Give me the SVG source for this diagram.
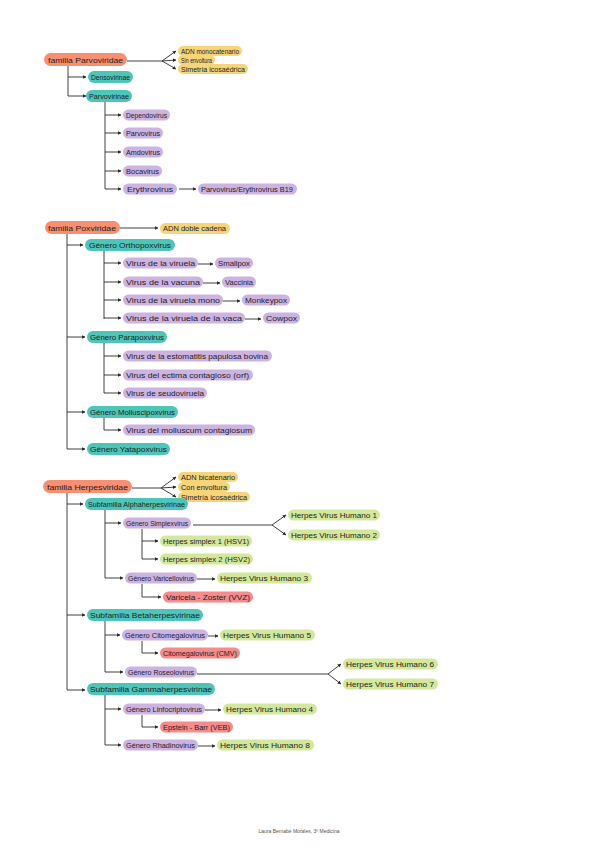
<svg xmlns="http://www.w3.org/2000/svg" width="600" height="848" viewBox="0 0 600 848">
<defs>
<style>
.s{fill:#f78f70}.y{fill:#f6d47a}.t{fill:#4ec5b9}.p{fill:#ccb3e2}.g{fill:#d3e89b}.r{fill:#f58b8a}
text{font-family:"Liberation Sans",Arial,sans-serif;font-size:7.5px;fill:#1e1e1e}
.c path{fill:none;stroke:#2a2a2a;stroke-width:0.9}
.ft{font-size:5px;fill:#555}
</style>
<marker id="a" viewBox="0 0 6 6" refX="5.5" refY="3" markerWidth="4" markerHeight="4" orient="auto"><path d="M0,0 L6,3 L0,6 z" fill="#2a2a2a"/></marker>
</defs>
<rect width="600" height="848" fill="#fff"/>
<g class="c">
<!-- Parvoviridae -->
<path d="M127,61 H162"/>
<path d="M162,61 L176,51" marker-end="url(#a)"/><path d="M162,61 L176,60" marker-end="url(#a)"/><path d="M162,61 L176,69" marker-end="url(#a)"/>
<path d="M68,66 V96"/><path d="M68,77 H86" marker-end="url(#a)"/><path d="M68,96 H86" marker-end="url(#a)"/>
<path d="M105,102 V189"/>
<path d="M105,115 H121" marker-end="url(#a)"/><path d="M105,133 H121" marker-end="url(#a)"/><path d="M105,152 H121" marker-end="url(#a)"/><path d="M105,171 H121" marker-end="url(#a)"/><path d="M105,189 H121" marker-end="url(#a)"/>
<path d="M179,189 H196" marker-end="url(#a)"/>
<!-- Poxviridae -->
<path d="M120,228 H158" marker-end="url(#a)"/>
<path d="M67,233 V449"/>
<path d="M67,245 H83" marker-end="url(#a)"/><path d="M67,337 H85" marker-end="url(#a)"/><path d="M67,412 H85" marker-end="url(#a)"/><path d="M67,449 H85" marker-end="url(#a)"/>
<path d="M104,251 V319"/>
<path d="M104,263 H121" marker-end="url(#a)"/><path d="M104,282 H121" marker-end="url(#a)"/><path d="M104,300 H121" marker-end="url(#a)"/><path d="M104,318 H121" marker-end="url(#a)"/>
<path d="M198,264 H213" marker-end="url(#a)"/><path d="M203,283 H220" marker-end="url(#a)"/><path d="M223,301 H240" marker-end="url(#a)"/><path d="M245,319 H261" marker-end="url(#a)"/>
<path d="M104,343 V393"/>
<path d="M104,356 H121" marker-end="url(#a)"/><path d="M104,375 H121" marker-end="url(#a)"/><path d="M104,393 H121" marker-end="url(#a)"/>
<path d="M104,418 V430 H121" marker-end="url(#a)"/>
<!-- Herpesviridae -->
<path d="M132,488 H161"/>
<path d="M161,488 L176,477" marker-end="url(#a)"/><path d="M161,488 L176,487" marker-end="url(#a)"/><path d="M161,488 L176,497" marker-end="url(#a)"/>
<path d="M67,493 V690"/>
<path d="M67,504 H83" marker-end="url(#a)"/><path d="M67,615 H85" marker-end="url(#a)"/><path d="M67,690 H85" marker-end="url(#a)"/>
<path d="M105,510 V578"/>
<path d="M105,523 H121" marker-end="url(#a)"/><path d="M105,578 H123" marker-end="url(#a)"/>
<path d="M193,525 H272"/>
<path d="M272,525 L286,515" marker-end="url(#a)"/><path d="M272,525 L286,535" marker-end="url(#a)"/>
<path d="M142,529 V559"/>
<path d="M142,541 H158" marker-end="url(#a)"/><path d="M142,559 H158" marker-end="url(#a)"/>
<path d="M197,579 H215" marker-end="url(#a)"/>
<path d="M142,584 V597 H161" marker-end="url(#a)"/>
<path d="M105,621 V672"/>
<path d="M105,635 H120" marker-end="url(#a)"/><path d="M105,672 H123" marker-end="url(#a)"/>
<path d="M208,636 H218" marker-end="url(#a)"/>
<path d="M142,641 V653 H158" marker-end="url(#a)"/>
<path d="M197,674 H328"/>
<path d="M328,674 L341,664" marker-end="url(#a)"/><path d="M328,674 L341,684" marker-end="url(#a)"/>
<path d="M105,695 V745"/>
<path d="M105,709 H121" marker-end="url(#a)"/><path d="M105,745 H121" marker-end="url(#a)"/>
<path d="M205,710 H221" marker-end="url(#a)"/>
<path d="M142,715 V727 H158" marker-end="url(#a)"/>
<path d="M198,746 H215" marker-end="url(#a)"/>
</g>

<!-- Section 1 -->
<g id="fam-parvo"><rect class="s" x="44" y="53" width="83" height="13" rx="6.5"/><text x="48" y="62.5" textLength="75" lengthAdjust="spacingAndGlyphs">familia Parvoviridae</text></g>
<g id="adn-mono"><rect class="y" x="178" y="46" width="64" height="10" rx="5"/><text x="181" y="53.5" textLength="58" lengthAdjust="spacingAndGlyphs">ADN monocatenario</text></g>
<g id="sin-env"><rect class="y" x="178" y="55" width="37" height="10" rx="5"/><text x="181" y="62.5" textLength="31" lengthAdjust="spacingAndGlyphs">Sin envoltura</text></g>
<g id="sim-ico1"><rect class="y" x="178" y="64" width="70" height="10" rx="5"/><text x="181" y="71.5" textLength="64" lengthAdjust="spacingAndGlyphs">Simetría icosaédrica</text></g>
<g id="densovirinae"><rect class="t" x="88" y="71" width="45" height="12" rx="6"/><text x="91" y="79.5" textLength="39" lengthAdjust="spacingAndGlyphs">Densovirinae</text></g>
<g id="parvovirinae"><rect class="t" x="86" y="90" width="46" height="12" rx="6"/><text x="89" y="98.5" textLength="40" lengthAdjust="spacingAndGlyphs">Parvovirinae</text></g>
<g id="dependovirus"><rect class="p" x="123" y="109.5" width="47" height="11" rx="5.5"/><text x="126" y="117.5" textLength="41" lengthAdjust="spacingAndGlyphs">Dependovirus</text></g>
<g id="parvovirus"><rect class="p" x="123" y="127.5" width="40" height="11" rx="5.5"/><text x="126" y="135.5" textLength="34" lengthAdjust="spacingAndGlyphs">Parvovirus</text></g>
<g id="amdovirus"><rect class="p" x="123" y="146.5" width="40" height="11" rx="5.5"/><text x="126" y="154.5" textLength="34" lengthAdjust="spacingAndGlyphs">Amdovirus</text></g>
<g id="bocavirus"><rect class="p" x="123" y="165.5" width="39" height="11" rx="5.5"/><text x="126" y="173.5" textLength="33" lengthAdjust="spacingAndGlyphs">Bocavirus</text></g>
<g id="erythrovirus"><rect class="p" x="123" y="183.5" width="54" height="11" rx="5.5"/><text x="127" y="191.5" textLength="46" lengthAdjust="spacingAndGlyphs">Erythrovirus</text></g>
<g id="b19"><rect class="p" x="198" y="183.5" width="99" height="11" rx="5.5"/><text x="201" y="191.5" textLength="92" lengthAdjust="spacingAndGlyphs">Parvovirus/Erythrovirus B19</text></g>

<!-- Section 2 -->
<g id="fam-pox"><rect class="s" x="45" y="221" width="75" height="13" rx="6.5"/><text x="48" y="230.5" textLength="68" lengthAdjust="spacingAndGlyphs">familia Poxviridae</text></g>
<g id="adn-doble"><rect class="y" x="160" y="223" width="70" height="11" rx="5.5"/><text x="163" y="231" textLength="63" lengthAdjust="spacingAndGlyphs">ADN doble cadena</text></g>
<g id="orthopox"><rect class="t" x="85" y="239" width="90" height="12" rx="6"/><text x="89" y="247.5" textLength="82" lengthAdjust="spacingAndGlyphs">Género Orthopoxvirus</text></g>
<g id="viruela"><rect class="p" x="123" y="257.5" width="75" height="11" rx="5.5"/><text x="126" y="265.5" textLength="69" lengthAdjust="spacingAndGlyphs">Virus de la viruela</text></g>
<g id="smallpox"><rect class="p" x="215" y="257.5" width="38" height="11" rx="5.5"/><text x="218" y="265.5" textLength="32" lengthAdjust="spacingAndGlyphs">Smallpox</text></g>
<g id="vacuna"><rect class="p" x="123" y="276.5" width="80" height="11" rx="5.5"/><text x="126" y="284.5" textLength="74" lengthAdjust="spacingAndGlyphs">Virus de la vacuna</text></g>
<g id="vaccinia"><rect class="p" x="222" y="276.5" width="34" height="11" rx="5.5"/><text x="225" y="284.5" textLength="28" lengthAdjust="spacingAndGlyphs">Vaccinia</text></g>
<g id="viruela-mono"><rect class="p" x="123" y="294.5" width="100" height="11" rx="5.5"/><text x="126" y="302.5" textLength="94" lengthAdjust="spacingAndGlyphs">Virus de la viruela mono</text></g>
<g id="monkeypox"><rect class="p" x="242" y="294.5" width="48" height="11" rx="5.5"/><text x="245" y="302.5" textLength="42" lengthAdjust="spacingAndGlyphs">Monkeypox</text></g>
<g id="viruela-vaca"><rect class="p" x="123" y="312.5" width="122" height="11" rx="5.5"/><text x="126" y="320.5" textLength="116" lengthAdjust="spacingAndGlyphs">Virus de la viruela de la vaca</text></g>
<g id="cowpox"><rect class="p" x="263" y="312.5" width="37" height="11" rx="5.5"/><text x="266" y="320.5" textLength="31" lengthAdjust="spacingAndGlyphs">Cowpox</text></g>
<g id="parapox"><rect class="t" x="87" y="331" width="80" height="12" rx="6"/><text x="90" y="339.5" textLength="74" lengthAdjust="spacingAndGlyphs">Género Parapoxvirus</text></g>
<g id="estomatitis"><rect class="p" x="123" y="350.5" width="149" height="11" rx="5.5"/><text x="126" y="358.5" textLength="142" lengthAdjust="spacingAndGlyphs">Virus de la estomatitis papulosa bovina</text></g>
<g id="ectima"><rect class="p" x="123" y="369.5" width="130" height="11" rx="5.5"/><text x="126" y="377.5" textLength="123" lengthAdjust="spacingAndGlyphs">Virus del ectima contagioso (orf)</text></g>
<g id="seudoviruela"><rect class="p" x="123" y="387.5" width="84" height="11" rx="5.5"/><text x="126" y="395.5" textLength="78" lengthAdjust="spacingAndGlyphs">Virus de seudoviruela</text></g>
<g id="mollusci"><rect class="t" x="87" y="406" width="91" height="12" rx="6"/><text x="90" y="414.5" textLength="85" lengthAdjust="spacingAndGlyphs">Género Molluscipoxvirus</text></g>
<g id="molluscum"><rect class="p" x="123" y="424.5" width="132" height="11" rx="5.5"/><text x="126" y="432.5" textLength="126" lengthAdjust="spacingAndGlyphs">Virus del molluscum contagiosum</text></g>
<g id="yatapox"><rect class="t" x="87" y="443" width="83" height="12" rx="6"/><text x="90" y="451.5" textLength="77" lengthAdjust="spacingAndGlyphs">Género Yatapoxvirus</text></g>

<!-- Section 3 -->
<g id="fam-herpes"><rect class="s" x="43" y="480" width="89" height="13" rx="6.5"/><text x="47" y="489.5" textLength="81" lengthAdjust="spacingAndGlyphs">familia Herpesviridae</text></g>
<g id="adn-bi"><rect class="y" x="178" y="472" width="60" height="10" rx="5"/><text x="181" y="479.5" textLength="54" lengthAdjust="spacingAndGlyphs">ADN bicatenario</text></g>
<g id="con-env"><rect class="y" x="178" y="482" width="52" height="10" rx="5"/><text x="181" y="489.5" textLength="46" lengthAdjust="spacingAndGlyphs">Con envoltura</text></g>
<g id="sim-ico2"><rect class="y" x="178" y="492" width="72" height="10" rx="5"/><text x="181" y="499.5" textLength="66" lengthAdjust="spacingAndGlyphs">Simetría icosaédrica</text></g>
<g id="alpha"><rect class="t" x="85" y="498" width="103" height="12" rx="6"/><text x="88" y="506.5" textLength="97" lengthAdjust="spacingAndGlyphs">Subfamilia Alphaherpesvirinae</text></g>
<g id="simplexvirus"><rect class="p" x="123" y="517.5" width="68" height="11" rx="5.5"/><text x="126" y="525.5" textLength="62" lengthAdjust="spacingAndGlyphs">Género Simplexvirus</text></g>
<g id="hvh1"><rect class="g" x="288" y="509.5" width="92" height="11" rx="5.5"/><text x="291" y="517.5" textLength="86" lengthAdjust="spacingAndGlyphs">Herpes Virus Humano 1</text></g>
<g id="hvh2"><rect class="g" x="288" y="529.5" width="92" height="11" rx="5.5"/><text x="291" y="537.5" textLength="86" lengthAdjust="spacingAndGlyphs">Herpes Virus Humano 2</text></g>
<g id="hsv1"><rect class="g" x="160" y="535.5" width="92" height="11" rx="5.5"/><text x="163" y="543.5" textLength="86" lengthAdjust="spacingAndGlyphs">Herpes simplex 1 (HSV1)</text></g>
<g id="hsv2"><rect class="g" x="160" y="553.5" width="93" height="11" rx="5.5"/><text x="163" y="561.5" textLength="87" lengthAdjust="spacingAndGlyphs">Herpes simplex 2 (HSV2)</text></g>
<g id="varicellovirus"><rect class="p" x="125" y="572.5" width="72" height="11" rx="5.5"/><text x="128" y="580.5" textLength="66" lengthAdjust="spacingAndGlyphs">Género Varicellovirus</text></g>
<g id="hvh3"><rect class="g" x="217" y="572.5" width="95" height="11" rx="5.5"/><text x="220" y="580.5" textLength="88" lengthAdjust="spacingAndGlyphs">Herpes Virus Humano 3</text></g>
<g id="vvz"><rect class="r" x="163" y="591.5" width="90" height="11" rx="5.5"/><text x="166" y="599.5" textLength="84" lengthAdjust="spacingAndGlyphs">Varicela - Zoster (VVZ)</text></g>
<g id="beta"><rect class="t" x="87" y="609" width="116" height="12" rx="6"/><text x="90" y="617.5" textLength="110" lengthAdjust="spacingAndGlyphs">Subfamilia Betaherpesvirinae</text></g>
<g id="citomegalo-g"><rect class="p" x="122" y="629.5" width="86" height="11" rx="5.5"/><text x="125" y="637.5" textLength="80" lengthAdjust="spacingAndGlyphs">Género Citomegalovirus</text></g>
<g id="hvh5"><rect class="g" x="220" y="629.5" width="95" height="11" rx="5.5"/><text x="223" y="637.5" textLength="88" lengthAdjust="spacingAndGlyphs">Herpes Virus Humano 5</text></g>
<g id="cmv"><rect class="r" x="160" y="647.5" width="80" height="11" rx="5.5"/><text x="163" y="655.5" textLength="74" lengthAdjust="spacingAndGlyphs">Citomegalovirus (CMV)</text></g>
<g id="roseolovirus"><rect class="p" x="125" y="666.5" width="72" height="11" rx="5.5"/><text x="128" y="674.5" textLength="66" lengthAdjust="spacingAndGlyphs">Género Roseolovirus</text></g>
<g id="hvh6"><rect class="g" x="343" y="658.5" width="95" height="11" rx="5.5"/><text x="346" y="666.5" textLength="88" lengthAdjust="spacingAndGlyphs">Herpes Virus Humano 6</text></g>
<g id="hvh7"><rect class="g" x="343" y="678.5" width="95" height="11" rx="5.5"/><text x="346" y="686.5" textLength="88" lengthAdjust="spacingAndGlyphs">Herpes Virus Humano 7</text></g>
<g id="gamma"><rect class="t" x="87" y="683" width="128" height="12" rx="6"/><text x="90" y="691.5" textLength="122" lengthAdjust="spacingAndGlyphs">Subfamilia Gammaherpesvirinae</text></g>
<g id="linfocripto"><rect class="p" x="123" y="703.5" width="82" height="11" rx="5.5"/><text x="126" y="711.5" textLength="76" lengthAdjust="spacingAndGlyphs">Género Linfocriptovirus</text></g>
<g id="hvh4"><rect class="g" x="223" y="703.5" width="94" height="11" rx="5.5"/><text x="226" y="711.5" textLength="87" lengthAdjust="spacingAndGlyphs">Herpes Virus Humano 4</text></g>
<g id="veb"><rect class="r" x="160" y="721.5" width="73" height="11" rx="5.5"/><text x="163" y="729.5" textLength="67" lengthAdjust="spacingAndGlyphs">Epstein - Barr (VEB)</text></g>
<g id="rhadinovirus"><rect class="p" x="123" y="739.5" width="75" height="11" rx="5.5"/><text x="126" y="747.5" textLength="69" lengthAdjust="spacingAndGlyphs">Género Rhadinovirus</text></g>
<g id="hvh8"><rect class="g" x="217" y="739.5" width="97" height="11" rx="5.5"/><text x="220" y="747.5" textLength="90" lengthAdjust="spacingAndGlyphs">Herpes Virus Humano 8</text></g>

<text class="ft" x="299" y="833" text-anchor="middle">Laura Bernabé Morales, 3º Medicina</text>
</svg>
